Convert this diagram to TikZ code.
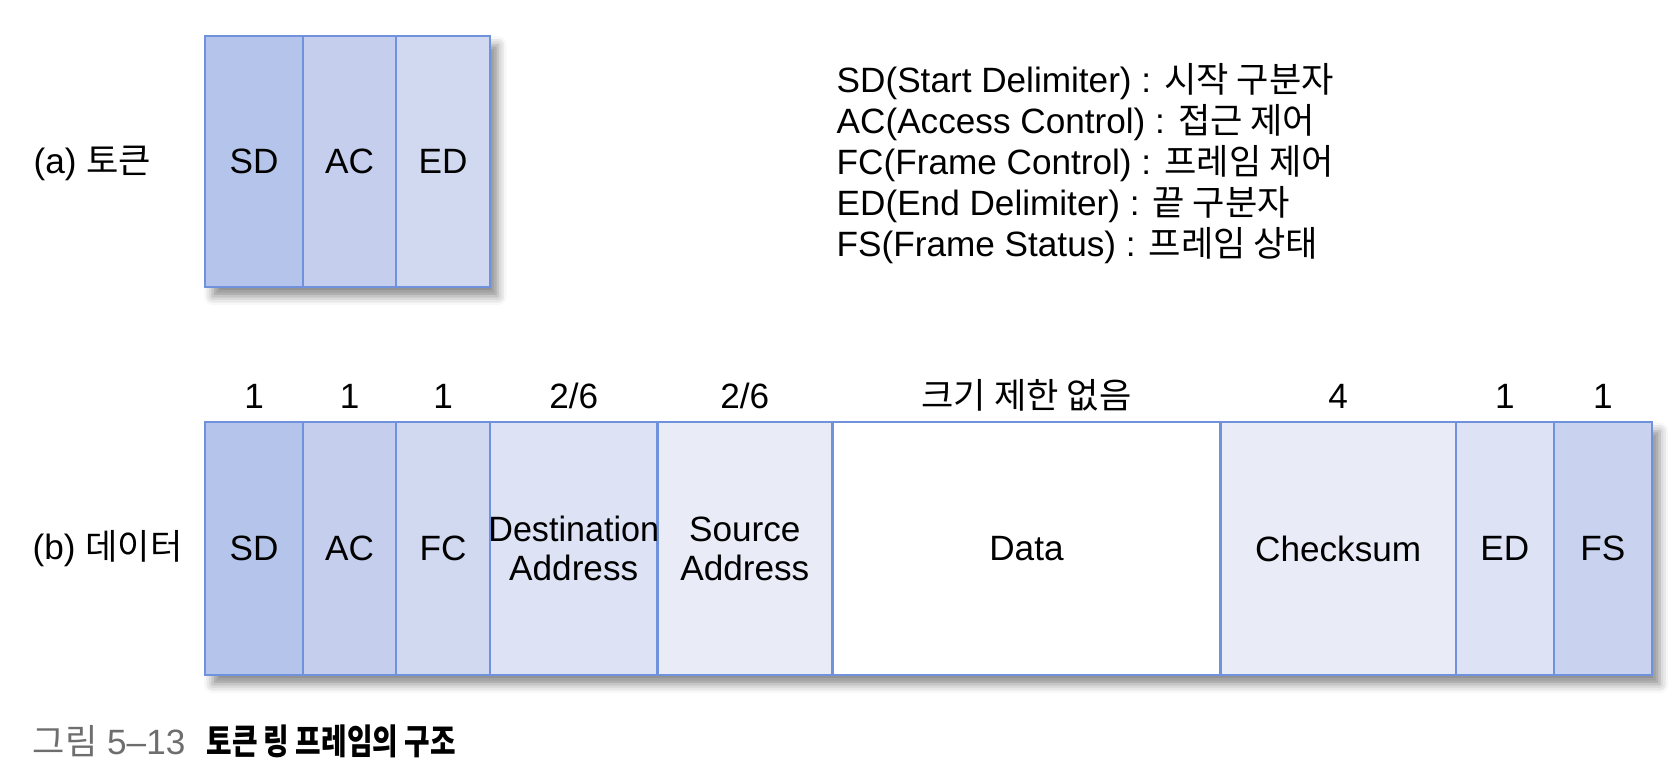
\documentclass[tikz,border=0pt]{standalone}
\usepackage{graphicx}
\usepackage{fontspec}
\setmainfont{Liberation Sans}
\newfontfamily\kr{Noto Sans CJK KR}
\usetikzlibrary{positioning,fit,backgrounds,shadows.blur}
\definecolor{frameline}{RGB}{112,146,220}
\definecolor{fsd}{RGB}{181,196,234}
\definecolor{fac}{RGB}{197,207,237}
\definecolor{ffc}{RGB}{209,217,241}
\definecolor{faddr}{RGB}{221,226,244}
\definecolor{fsrc}{RGB}{233,235,247}
\definecolor{ffs}{RGB}{201,211,239}
\definecolor{capgray}{RGB}{110,110,110}
\tikzset{
    cell/.style={
        rectangle,
        draw=frameline,
        line width=0.7pt,
        outer sep=0pt,
        inner sep=0pt,
        align=center,
        font=\fontsize{10}{11}\selectfont
    },
    tokcell/.style={cell,minimum height=2.51cm},
    datcell/.style={cell,minimum height=2.53cm},
    num/.style={
        inner sep=0pt,
        text height=0.75em,
        text depth=0.05em,
        font=\fontsize{10}{11}\selectfont
    },
    tag/.style={anchor=west,inner sep=0pt,font=\fontsize{10}{11}\selectfont},
    shade/.style={
        fill=white,
        inner sep=0pt,
        blur shadow={shadow xshift=2.2pt,shadow yshift=-2.6pt,shadow blur radius=2.5pt,shadow opacity=45}
    }
}

\begin{document}
\begin{tikzpicture}[x=0.01cm,y=-0.01cm]
\useasboundingbox (0,0) rectangle (1680,766);

% (a) token
\node[tag] (ta) at (33,163) {(a) {\kr 토큰}};
\node[tokcell,fill=fsd,minimum width=0.98cm,anchor=north west] (tsd) at (205,36) {SD};
\node[tokcell,fill=fac,minimum width=0.93cm,right=0pt of tsd] (tac) {AC};
\node[tokcell,fill=ffc,minimum width=0.94cm,right=0pt of tac] (ted) {ED};
\begin{scope}[on background layer]
\node[shade,fit=(tsd)(ted)] (tbox) {};
\end{scope}

% legend
\node[tag,align=left,font=\fontsize{10}{11.66}\selectfont] (leg) at (836,164) {%
SD(Start Delimiter) : {\kr 시작 구분자}\\
AC(Access Control) : {\kr 접근 제어}\\
FC(Frame Control) : {\kr 프레임 제어}\\
ED(End Delimiter) : {\kr 끝 구분자}\\
FS(Frame Status) : {\kr 프레임 상태}};

% (b) data frame
\node[tag] (tb) at (32,549) {(b) {\kr 데이터}};
\node[datcell,fill=fsd,minimum width=0.98cm,anchor=north west] (dsd) at (205,422) {SD};
\node[datcell,fill=fac,minimum width=0.93cm,right=0pt of dsd] (dac) {AC};
\node[datcell,fill=ffc,minimum width=0.94cm,right=0pt of dac] (dfc) {FC};
\node[datcell,fill=faddr,minimum width=1.67cm,right=0pt of dfc] (ddst) {};
\node[datcell,fill=fsrc,minimum width=1.75cm,right=0pt of ddst] (dsrc) {Source\\Address};
\node[datcell,fill=white,minimum width=3.88cm,right=0pt of dsrc] (ddat) {Data};
\node[datcell,fill=fsrc,minimum width=2.35cm,right=0pt of ddat] (dchk) {Checksum};
\node[datcell,fill=faddr,minimum width=0.98cm,right=0pt of dchk] (ded) {ED};
\node[datcell,fill=ffs,minimum width=0.98cm,right=0pt of ded] (dfs) {FS};
% text wider than its field
\node[cell,draw=none] (ldst) at (ddst.center) {\scalebox{0.97}[1]{Destination}\\Address};
\begin{scope}[on background layer]
\node[shade,fit=(dsd)(dfs)] (dbox) {};
\end{scope}

% field sizes
\node[num,above=0.11cm of dsd] (nsd) {1};
\node[num,above=0.11cm of dac] (nac) {1};
\node[num,above=0.11cm of dfc] (nfc) {1};
\node[num,above=0.11cm of ddst] (ndst) {2/6};
\node[num,above=0.11cm of dsrc] (nsrc) {2/6};
\node[num,above=0.11cm of ddat] (ndat) {\kr 크기 제한 없음};
\node[num,above=0.11cm of dchk] (nchk) {4};
\node[num,above=0.11cm of ded] (ned) {1};
\node[num,above=0.11cm of dfs] (nfs) {1};

% caption
\node[tag] (cap) at (32,741) {{\kr\color{capgray}그림} {\color{capgray}5--13}\hspace{0.6em}\scalebox{0.79}[1]{\kr\bfseries 토큰 링 프레임의 구조}};
\end{tikzpicture}
\end{document}
